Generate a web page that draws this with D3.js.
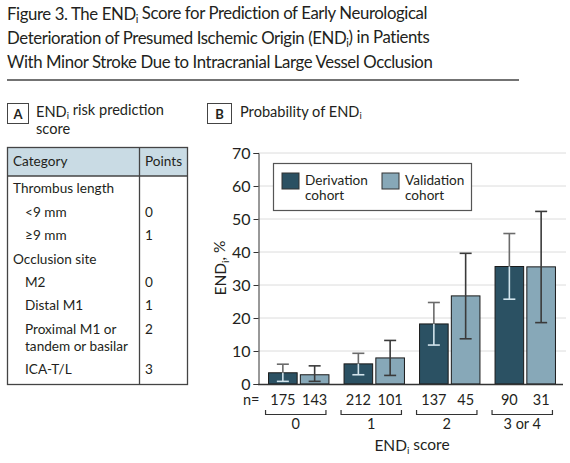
<!DOCTYPE html>
<html>
<head>
<meta charset="utf-8">
<script src="https://cdn.jsdelivr.net/npm/d3@7"></script>
<style>
  body { margin: 0; background: #fff; }
  svg { display: block; }
  text { fill: #231f20; }
</style>
</head>
<body>
<svg width="570" height="463"></svg>
<script>
// chart data
var groups = ["0", "1", "2", "3 or 4"];
var cohorts = ["Derivation", "Validation"];
var derivation = [3.4, 6.1, 18.2, 35.6];
var derivationLow = [0.8, 2.8, 11.8, 25.7];
var derivationHigh = [6.0, 9.3, 24.7, 45.6];
var validation = [2.8, 7.9, 26.7, 35.5];
var validationLow = [0.8, 2.6, 13.7, 18.6];
var validationHigh = [5.5, 13.2, 39.6, 52.3];
var nDerivation = [175, 212, 137, 90];
var nValidation = [143, 101, 45, 31];
var yTicks = [0, 10, 20, 30, 40, 50, 60, 70];

// table in panel A
var tableCategory = ["Thrombus length", "<9 mm", "≥9 mm", "Occlusion site", "M2", "Distal M1", "Proximal M1 or|tandem or basilar", "ICA-T/L"];
var tablePoints = ["", "0", "1", "", "0", "1", "2", "3"];
var tableIndent = [0, 1, 1, 0, 1, 1, 1, 1];

function main() {
    var svg = d3.select("svg");
    var font = "Lato, sans-serif";
    var darkC = "#2b5163", lightC = "#87a8b8";

    // little helper for END with subscript i
    function endi(sel, after) {
        sel.append("tspan").text("END");
        sel.append("tspan").attr("font-size", "0.65em").attr("dy", "0.25em").text("i");
        sel.append("tspan").attr("dy", "-0.25em").text(after);
    }

    // title
    var title = svg.append("g").attr("font-family", font).attr("font-size", "16.8px")
        .attr("letter-spacing", "-0.4px");
    var t1 = title.append("text").attr("x", 7).attr("y", 20);
    t1.append("tspan").text("Figure 3. The ");
    endi(t1, " Score for Prediction of Early Neurological");
    var t2 = title.append("text").attr("x", 7).attr("y", 44);
    t2.append("tspan").text("Deterioration of Presumed Ischemic Origin (");
    endi(t2, ") in Patients");
    title.append("text").attr("x", 7).attr("y", 68).text("With Minor Stroke Due to Intracranial Large Vessel Occlusion");
    svg.append("line").attr("x1", 7).attr("x2", 519).attr("y1", 80).attr("y2", 80)
       .attr("stroke", "#444").attr("stroke-width", 1.5);

    // panel A
    var pa = svg.append("g").attr("font-family", font).attr("font-size", "14.6px");
    pa.append("rect").attr("x", 7.5).attr("y", 103.5).attr("width", 21).attr("height", 20)
      .attr("fill", "none").attr("stroke", "#444");
    pa.append("text").attr("x", 18).attr("y", 118.5).attr("text-anchor", "middle")
      .attr("font-weight", "bold").attr("font-size", "13px").text("A");
    var la = pa.append("text").attr("x", 36).attr("y", 116.5);
    endi(la, " risk prediction");
    pa.append("text").attr("x", 36).attr("y", 134).text("score");

    var tbl = svg.append("g").attr("font-family", font).attr("font-size", "13.6px");
    tbl.append("rect").attr("x", 7.5).attr("y", 147.5).attr("width", 180).attr("height", 28.5)
       .attr("fill", "#c9dbe4");
    tbl.append("rect").attr("x", 7.5).attr("y", 147.5).attr("width", 180).attr("height", 237)
       .attr("fill", "none").attr("stroke", "#444").attr("stroke-width", 1.3);
    tbl.append("line").attr("x1", 7.5).attr("x2", 187.5).attr("y1", 176).attr("y2", 176)
       .attr("stroke", "#444").attr("stroke-width", 1.3);
    tbl.append("line").attr("x1", 139.5).attr("x2", 139.5).attr("y1", 147.5).attr("y2", 384.5)
       .attr("stroke", "#444").attr("stroke-width", 1.3);
    tbl.append("text").attr("x", 13).attr("y", 166).text("Category");
    tbl.append("text").attr("x", 145).attr("y", 166).text("Points");

    var rowY = [193, 217, 240, 264, 287, 310, 334, 374];
    tableCategory.forEach(function(c, i) {
        var lines = c.split("|");
        lines.forEach(function(l, j) {
            tbl.append("text").attr("x", tableIndent[i] ? 25 : 13).attr("y", rowY[i] + j * 17).text(l);
        });
        tbl.append("text").attr("x", 145).attr("y", rowY[i]).text(tablePoints[i]);
    });

    // panel B
    var pb = svg.append("g").attr("font-family", font).attr("font-size", "14.6px");
    pb.append("rect").attr("x", 207.5).attr("y", 103.5).attr("width", 24).attr("height", 20)
      .attr("fill", "none").attr("stroke", "#444");
    pb.append("text").attr("x", 219.5).attr("y", 118.5).attr("text-anchor", "middle")
      .attr("font-weight", "bold").attr("font-size", "13px").text("B");
    var lb = pb.append("text").attr("x", 240).attr("y", 116.5);
    lb.append("tspan").text("Probability of ");
    endi(lb, "");

    var yScale = d3.scaleLinear().domain([0, 70]).range([384, 153]);
    var x0 = d3.scaleBand().domain(groups).range([261, 563]).paddingInner(0.2).paddingOuter(0.1);
    var x1 = d3.scaleBand().domain(cohorts).range([0, x0.bandwidth()]).paddingInner(0.1);

    var chart = svg.append("g").attr("font-family", font);

    // gridlines
    chart.append("g").selectAll("line")
        .data(yTicks.slice(1))
        .enter().append("line")
        .attr("x1", 258).attr("x2", 566)
        .attr("y1", function(d) { return yScale(d); })
        .attr("y2", function(d) { return yScale(d); })
        .attr("stroke", "#dcdcdc").attr("stroke-width", 1);

    var yAxis = chart.append("g")
        .attr("transform", "translate(258.5,0)")
        .call(d3.axisLeft(yScale).tickValues(yTicks).tickSize(5).tickPadding(3));
    yAxis.select(".domain").attr("stroke", "#333");
    yAxis.selectAll(".tick line").attr("stroke", "#333");
    yAxis.selectAll(".tick text").attr("font-family", font).attr("font-size", "16px").attr("fill", "#231f20");

    var yl = chart.append("text")
        .attr("transform", "translate(226,268) rotate(-90)")
        .attr("text-anchor", "middle").attr("font-size", "15.5px");
    endi(yl, ", %");

    // bars
    var series = [
        { name: "Derivation", vals: derivation, lo: derivationLow, hi: derivationHigh, color: darkC },
        { name: "Validation", vals: validation, lo: validationLow, hi: validationHigh, color: lightC }
    ];
    var bars = [];
    series.forEach(function(s) {
        groups.forEach(function(g, i) {
            bars.push({ group: g, cohort: s.name, value: s.vals[i], lo: s.lo[i], hi: s.hi[i], color: s.color });
        });
    });

    chart.append("g").selectAll("rect")
        .data(bars)
        .enter().append("rect")
        .attr("x", function(d) { return x0(d.group) + x1(d.cohort); })
        .attr("y", function(d) { return yScale(d.value); })
        .attr("width", x1.bandwidth())
        .attr("height", function(d) { return yScale(0) - yScale(d.value); })
        .attr("fill", function(d) { return d.color; })
        .attr("stroke", "#1a1a1a").attr("stroke-width", 1);

    // error bars
    var eb = chart.append("g").attr("stroke-width", 1.6);
    bars.forEach(function(d) {
        var cx = x0(d.group) + x1(d.cohort) + x1.bandwidth() / 2;
        var upColor = d.cohort == "Derivation" ? "#6b6b6b" : "#3a3a3a";
        var inColor = d.cohort == "Derivation" ? "#d2e4ec" : "#3a3a3a";
        eb.append("line").attr("x1", cx).attr("x2", cx)
          .attr("y1", yScale(d.hi)).attr("y2", yScale(d.value)).attr("stroke", upColor);
        eb.append("line").attr("x1", cx).attr("x2", cx)
          .attr("y1", yScale(d.value)).attr("y2", yScale(d.lo)).attr("stroke", inColor);
        eb.append("line").attr("x1", cx - 6).attr("x2", cx + 6)
          .attr("y1", yScale(d.hi)).attr("y2", yScale(d.hi)).attr("stroke", upColor);
        eb.append("line").attr("x1", cx - 6).attr("x2", cx + 6)
          .attr("y1", yScale(d.lo)).attr("y2", yScale(d.lo)).attr("stroke", inColor);
    });

    // x baseline
    chart.append("line").attr("x1", 258).attr("x2", 563)
        .attr("y1", yScale(0) + 0.5).attr("y2", yScale(0) + 0.5)
        .attr("stroke", "#333").attr("stroke-width", 1.3);

    // legend
    var lg = chart.append("g").attr("font-size", "13.6px");
    lg.append("rect").attr("x", 273.5).attr("y", 163.5).attr("width", 198).attr("height", 47)
      .attr("fill", "#fff").attr("stroke", "#555").attr("stroke-width", 1.2);
    var legX = [282, 382];
    series.forEach(function(s, i) {
        lg.append("rect").attr("x", legX[i]).attr("y", 173).attr("width", 17).attr("height", 16)
          .attr("fill", s.color).attr("stroke", "#333");
        lg.append("text").attr("x", legX[i] + 23).attr("y", 185).text(s.name);
        lg.append("text").attr("x", legX[i] + 23).attr("y", 200).text("cohort");
    });

    // n row, brackets, group labels
    var nr = chart.append("g").attr("font-size", "14.5px");
    nr.append("text").attr("x", 243).attr("y", 405).text("n=");
    bars.forEach(function(d) {
        var cx = x0(d.group) + x1(d.cohort) + x1.bandwidth() / 2;
        var n = d.cohort == "Derivation" ? nDerivation[groups.indexOf(d.group)] : nValidation[groups.indexOf(d.group)];
        nr.append("text").attr("x", cx).attr("y", 405).attr("text-anchor", "middle").text(n);
    });
    groups.forEach(function(g) {
        var a = x0(g) - 3, b = x0(g) + x0.bandwidth() - 3;
        nr.append("path")
          .attr("d", "M" + a + ",410V414.5H" + b + "V410")
          .attr("fill", "none").attr("stroke", "#333").attr("stroke-width", 1.2);
        nr.append("text").attr("x", x0(g) + x0.bandwidth() / 2 - 3).attr("y", 429)
          .attr("text-anchor", "middle").text(g);
    });
    var xl = chart.append("text").attr("x", 412).attr("y", 451)
        .attr("text-anchor", "middle").attr("font-size", "15.5px");
    endi(xl, " score");
}
main();
</script>
</body>
</html>
